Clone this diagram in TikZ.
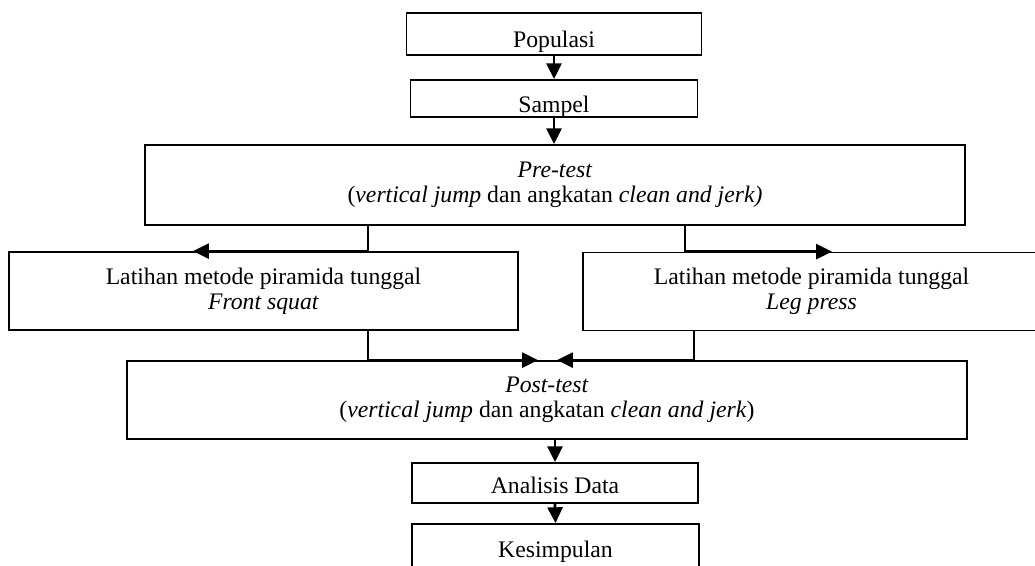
\documentclass[tikz,border=0pt]{standalone}
\usepackage{fontspec}
\setmainfont{Liberation Serif}
\usetikzlibrary{positioning, arrows.meta}

\begin{document}
\begin{tikzpicture}[x=0.02cm, y=-0.02cm,
    box/.style={draw, line width=1pt, inner sep=0pt, align=center,
        font=\fontsize{13.5pt}{14pt}\selectfont},
    lbl/.style={inner sep=0pt, font=\fontsize{13.5pt}{14pt}\selectfont},
    arr/.style={-{Triangle[length=9pt, width=8.5pt]}, line width=1.6pt}]
    \useasboundingbox (0,0) rectangle (1035,565);

    % boxes
    \node[box, minimum width=5.9cm, minimum height=0.84cm] (pop) at (554,34) {};
    \node[box, minimum width=5.74cm, minimum height=0.74cm] (sampel) at (554,98.5) {};
    \node[box, minimum width=16.4cm, minimum height=1.6cm] (pre) at (555,185)
        {\textit{Pre-test}\\(\textit{vertical jump} dan angkatan \textit{clean and jerk)}};
    \node[box, minimum width=10.18cm, minimum height=1.56cm] (front) at (263.5,291)
        {Latihan metode piramida tunggal\\\textit{Front squat}};
    \node[box, minimum width=9.14cm, minimum height=1.56cm] (leg) at (811.5,291.5)
        {Latihan metode piramida tunggal\\\textit{Leg press}};
    \node[box, minimum width=16.8cm, minimum height=1.56cm] (post) at (547,400)
        {\textit{Post-test}\\(\textit{vertical jump} dan angkatan \textit{clean and jerk})};
    \node[box, minimum width=5.72cm, minimum height=0.8cm] (ana) at (555,483) {};
    \node[box, minimum width=5.74cm, minimum height=1.04cm] (kes) at (555.5,550) {};

    % labels of the small boxes
    \node[lbl, anchor=base] (tpop) at (pop.center |- 0,47) {Populasi};
    \node[lbl, anchor=base] (tsampel) at (sampel.center |- 0,112) {Sampel};
    \node[lbl, anchor=base] (tana) at (ana.center |- 0,493) {Analisis Data};
    \node[lbl, anchor=base] (tkes) at (kes.center |- 0,557) {Kesimpulan};

    % branch points
    \coordinate (outL) at (368,0);
    \coordinate (outR) at (685,0);
    \coordinate (tipL) at (193,0);
    \coordinate (tipR) at (832,0);
    \coordinate (inL) at (368,0);
    \coordinate (inR) at (694,0);
    \coordinate (endL) at (538,0);
    \coordinate (endR) at (557,0);

    % connectors
    \draw[arr] (pop.south) -- (sampel.north);
    \draw[arr] (sampel.south) -- (sampel.south |- pre.north);
    \draw[arr] (pre.south -| outL) |- (front.north -| tipL);
    \draw[arr] (pre.south -| outR) |- (leg.north -| tipR);
    \draw[arr] (front.south -| inL) |- (post.north -| endL);
    \draw[arr] (leg.south -| inR) |- (post.north -| endR);
    \draw[arr] (ana.north |- post.south) -- (ana.north);
    \draw[arr] (ana.south) -- (kes.north);
\end{tikzpicture}
\end{document}
